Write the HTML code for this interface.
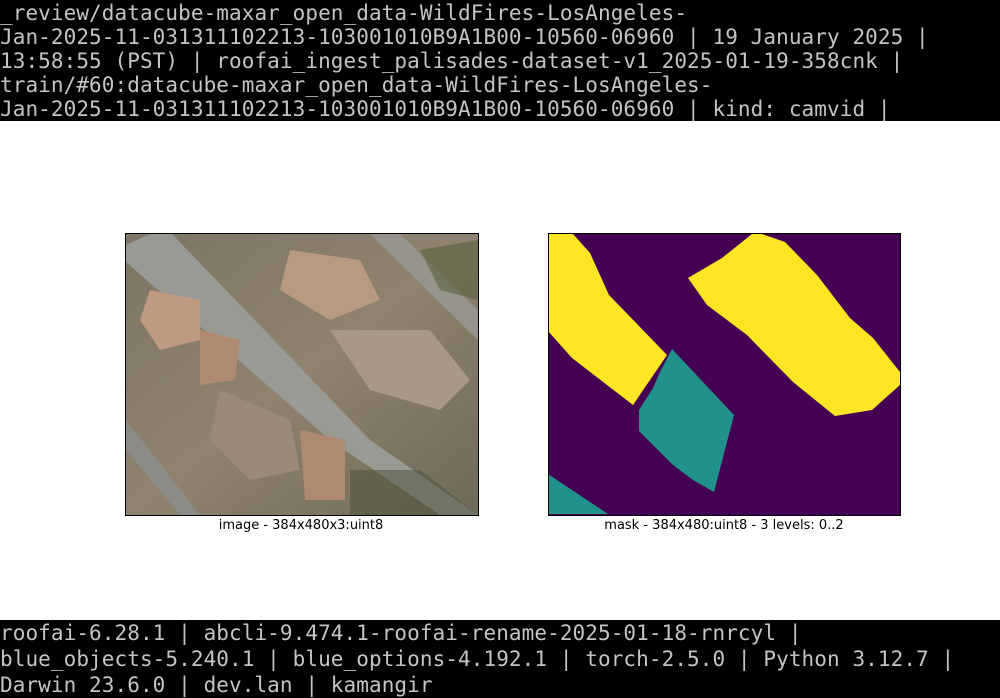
<!DOCTYPE html>
<html><head><meta charset="utf-8"><style>
body{margin:0;width:1000px;height:698px;background:#fff;position:relative;overflow:hidden}
.bar{position:absolute;left:0;width:1000px;background:#000;color:#c4c4c4;font-family:"DejaVu Sans Mono","Liberation Mono",monospace;font-size:21px;letter-spacing:0.08px;white-space:pre;overflow:hidden}
.cap{position:absolute;font-family:"DejaVu Sans","Liberation Sans",sans-serif;font-size:13px;color:#000;text-align:center;width:400px}
</style></head><body>
<div class="bar" style="top:0;height:121px;line-height:24px"><div style="margin-top:1px">_review/datacube-maxar_open_data-WildFires-LosAngeles-
Jan-2025-11-031311102213-103001010B9A1B00-10560-06960 | 19 January 2025 |
13:58:55 (PST) | roofai_ingest_palisades-dataset-v1_2025-01-19-358cnk |
train/#60:datacube-maxar_open_data-WildFires-LosAngeles-
Jan-2025-11-031311102213-103001010B9A1B00-10560-06960 | kind: camvid |</div></div>

<svg style="position:absolute;left:0;top:0" width="1000" height="698">
<defs><linearGradient id="g" x1="0" y1="0" x2="1" y2="1">
<stop offset="0" stop-color="#7d7665"/><stop offset="0.5" stop-color="#8f8270"/><stop offset="1" stop-color="#6f6a58"/></linearGradient></defs>
<rect x="125.5" y="233.5" width="353" height="282" fill="url(#g)"/>
<polygon points="150,234 172,234 370,440 478,515 440,515 330,440 126,262 126,245" fill="#9a9a94"/>
<polygon points="370,234 400,234 478,310 478,340" fill="#95938c"/>
<polygon points="126,420 200,515 180,515 126,450" fill="#8d8b85"/>
<polygon points="290,250 360,260 380,300 330,320 280,290" fill="#b89a80"/>
<polygon points="330,330 430,330 470,380 440,410 370,390" fill="#a8988a"/>
<polygon points="150,290 200,300 200,340 160,350 140,320" fill="#c09a80"/>
<polygon points="200,330 240,340 235,380 200,385" fill="#b08a70"/>
<polygon points="300,430 345,440 345,500 305,500" fill="#b08a70"/>
<polygon points="220,390 290,420 300,470 250,480 210,440" fill="#9a8a7c"/>
<polygon points="420,250 478,240 478,300 440,290" fill="#5a6040" opacity=".6"/>
<polygon points="350,470 420,470 478,515 350,515" fill="#4a5038" opacity=".5"/>
<rect x="125.5" y="233.5" width="353" height="282" fill="none" stroke="#000" stroke-width="1"/>

<rect x="548.5" y="233.5" width="352" height="282" fill="#440154"/>
<polygon points="548,234 573,234 590,253 609,295 667,355 633,405 572,358 548,331" fill="#fde725"/>
<polygon points="688,278 722,258 752,234 762,234 785,242 817,275 850,318 873,338 900,372 900,385 872,410 835,416 793,382 747,335 707,305" fill="#fde725"/>
<polygon points="672,349 734,415 714,492 693,480 673,465 663,455 639,431 639,410 653,388 660,372" fill="#21918c"/>
<polygon points="548,474 608,514 548,514" fill="#21918c"/>
<rect x="548.5" y="233.5" width="352" height="282" fill="none" stroke="#000" stroke-width="1"/>
</svg>
<div class="cap" style="left:101px;top:518px">image - 384x480x3:uint8</div>
<div class="cap" style="left:524px;top:518px">mask - 384x480:uint8 - 3 levels: 0..2</div>

<div class="bar" style="top:620px;height:78px;line-height:26px"><div style="margin-top:0px">roofai-6.28.1 | abcli-9.474.1-roofai-rename-2025-01-18-rnrcyl |
blue_objects-5.240.1 | blue_options-4.192.1 | torch-2.5.0 | Python 3.12.7 |
Darwin 23.6.0 | dev.lan | kamangir</div></div>
</body></html>
